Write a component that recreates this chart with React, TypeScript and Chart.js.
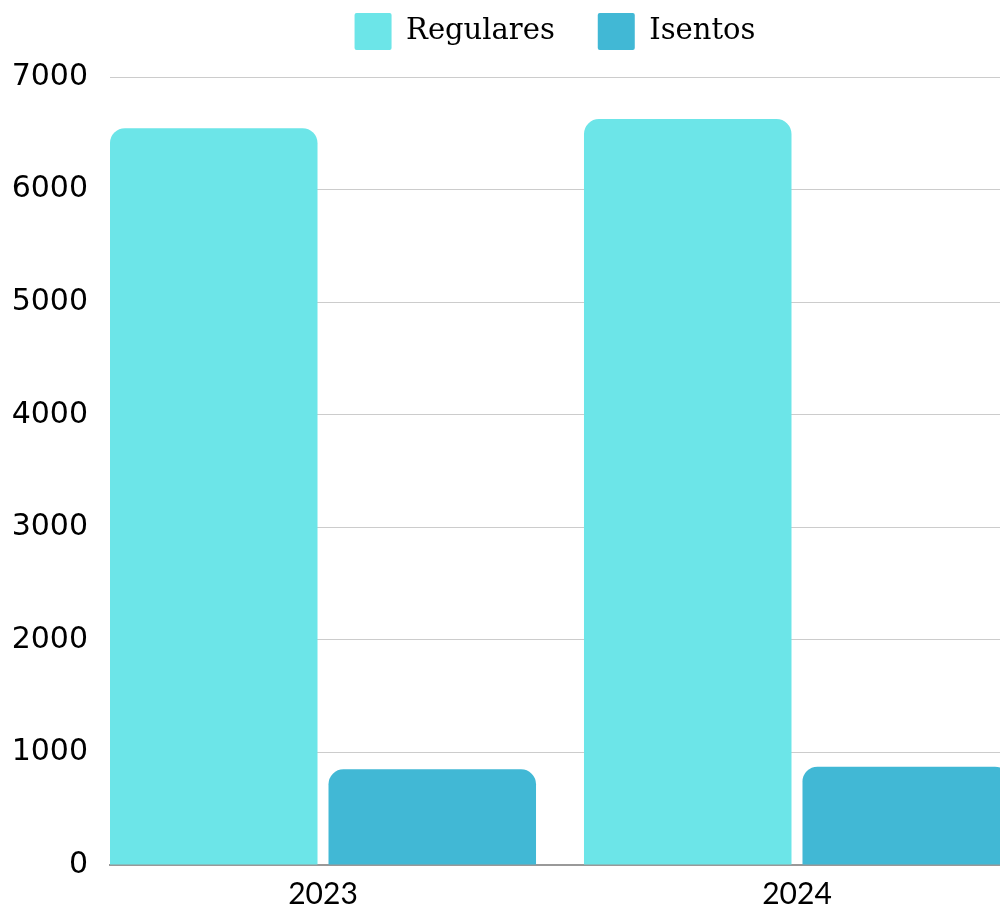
import React, { useEffect, useRef } from 'react';
import { Chart, registerables } from 'chart.js';

Chart.register(...registerables);

const categories = ['2023', '2024'];
const seriesNames = ['Regulares', 'Isentos'];
const regulares = [6545, 6627];
const isentos = [850, 873];
const yMin = 0;
const yMax = 7000;
const yStep = 1000;

const colors = ['#6CE5E8', '#41B8D5'];

export default function App() {
  const ref = useRef<HTMLCanvasElement>(null);

  useEffect(() => {
    if (!ref.current) return;
    const tickFontY = { family: "'DejaVu Sans', sans-serif", size: 30 };
    const tickFontX = { family: "Lato, 'Open Sans', sans-serif", size: 30 };
    const chart = new Chart(ref.current, {
      type: 'bar',
      data: {
        datasets: [
          {
            label: seriesNames[0],
            data: regulares.map((y, i) => ({ x: i, y })),
            backgroundColor: colors[0],
            borderRadius: 15,
          },
          {
            label: seriesNames[1],
            data: isentos.map((y, i) => ({ x: i, y })),
            backgroundColor: colors[1],
            borderRadius: 15,
          },
        ],
      },
      options: {
        animation: false,
        responsive: false,
        layout: { padding: { top: -30, left: 0, right: 0, bottom: 0 } },
        datasets: {
          bar: { categoryPercentage: 0.922, barPercentage: 0.9497 },
        },
        plugins: {
          legend: {
            position: 'top',
            fullSize: false,
            labels: {
              boxWidth: 37,
              boxHeight: 37,
              padding: 43,
              color: '#000',
              useBorderRadius: true,
              borderRadius: 2,
              font: { family: "'DejaVu Serif', serif", size: 29 },
            },
          },
          tooltip: { enabled: false },
        },
        scales: {
          x: {
            type: 'linear',
            min: -0.4494,
            max: 1.4283,
            offset: false,
            grid: { display: false },
            border: { display: true, color: '#999', width: 2 },
            afterBuildTicks: (s: any) => {
              s.ticks = categories.map((_, i) => ({ value: i }));
            },
            afterFit: (s: any) => {
              s.height = 43;
            },
            ticks: {
              callback: (v: any) => categories[v as number] ?? '',
              padding: 3.5,
              font: tickFontX,
              color: '#000',
              maxRotation: 0,
              autoSkip: false,
            },
          },
          xTop: {
            type: 'linear',
            axis: 'x',
            position: 'top',
            display: true,
            grid: { display: false },
            border: { display: false },
            ticks: { display: false },
            afterFit: (s: any) => {
              s.height = 17;
            },
          },
          y: {
            min: yMin,
            max: yMax,
            ticks: {
              stepSize: yStep,
              padding: 22,
              font: tickFontY,
              color: '#000',
              callback: (v: any) => String(v),
            },
            grid: { color: '#ccc', drawTicks: false },
            border: { display: false },
            afterFit: (s: any) => {
              s.width = 110;
            },
          },
        },
      } as any,
    });
    return () => chart.destroy();
  }, []);

  return (
    <div style={{ position: 'fixed', left: 0, top: 0, width: 1000, height: 908, overflow: 'hidden', background: '#fff' }}>
      <canvas ref={ref} width={1000} height={908} style={{ width: 1000, height: 908, display: 'block' }} />
    </div>
  );
}
